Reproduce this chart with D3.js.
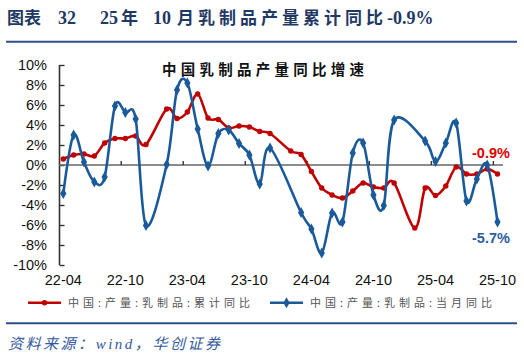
<!DOCTYPE html>
<html><head><meta charset="utf-8">
<script src="https://cdn.jsdelivr.net/npm/d3@7"></script>
<style>
html,body{margin:0;padding:0;background:#fff;}
svg{display:block;}
</style></head>
<body>
<svg id="c" width="524" height="359"></svg>
<script>
// ---- data ----
const months = ["22-04","22-05","22-06","22-07","22-08","22-09","22-10","22-11","22-12","23-01",
  "23-02","23-03","23-04","23-05","23-06","23-07","23-08","23-09","23-10","23-11","23-12","24-01",
  "24-02","24-03","24-04","24-05","24-06","24-07","24-08","24-09","24-10","24-11","24-12","25-01",
  "25-02","25-03","25-04","25-05","25-06","25-07","25-08","25-09","25-10"];
const cumYoY = [0.6,1.0,1.1,0.9,2.2,2.65,2.65,2.9,2.05,null,
  5.6,4.65,5.3,7.1,4.7,4.55,3.7,3.9,3.8,3.35,3.15,null,
  1.4,1.05,-0.65,-2.3,-3.0,-3.3,-2.6,-1.8,-2.2,-2.3,-1.8,null,
  -6.3,-2.3,-3.05,-2.1,-0.2,-0.9,-0.9,-0.4,-0.9];
const monYoY = [-2.85,3.0,0.3,-1.7,-1.2,5.9,5.25,4.6,-6.05,null,
  0.05,7.5,8.2,3.6,-0.1,3.15,3.5,2.15,1.0,-1.9,1.7,null,
  null,-4.75,-6.4,-8.8,-4.8,-5.7,1.2,2.2,-3.0,-4.05,4.5,null,
  null,2.4,0.35,2.2,4.2,-3.6,-1.4,0.0,-5.7];
const xTickLabels = ["22-04","22-10","23-04","23-10","24-04","24-10","25-04","25-10"];
const yTicks = [-10,-8,-6,-4,-2,0,2,4,6,8,10];
const seriesNames = ["中国:产量:乳制品:累计同比","中国:产量:乳制品:当月同比"];
const lastLabels = ["-0.9%","-5.7%"];

// ---- drawing ----
const svg = d3.select("#c");
const RED = "#C00000", BLUE = "#1B5A9A";
const x = d3.scalePoint().domain(months).range([63.3, 497.5]);
const step = x.step();
const y = d3.scaleLinear().domain([-10,10]).range([265,65]);

// title
const t = svg.append("text").attr("y",24)
  .attr("font-family","'Liberation Serif','Noto Sans CJK SC',serif")
  .attr("font-weight","bold").attr("font-size",18).attr("fill","#1F3864");
t.append("tspan").attr("x",7).attr("font-family","'Noto Sans CJK SC'").attr("font-size",17).text("图表");
t.append("tspan").attr("x",58).text("32");
t.append("tspan").attr("x",100).text("25");
t.append("tspan").attr("x",121).attr("font-family","'Noto Sans CJK SC'").attr("font-size",17).text("年");
t.append("tspan").attr("x",153).text("10");
t.append("tspan").attr("x",177).attr("font-family","'Noto Sans CJK SC'").attr("font-size",17)
  .attr("textLength",206).attr("lengthAdjust","spacing").text("月乳制品产量累计同比");
t.append("tspan").attr("x",387).text("-0.9%");

svg.append("line").attr("x1",6).attr("x2",517).attr("y1",41.7).attr("y2",41.7)
  .attr("stroke","#2B4F8C").attr("stroke-width",2);

// inner title
svg.append("text").attr("x",162).attr("y",75)
  .attr("font-family","'Noto Sans CJK SC',sans-serif").attr("font-weight","bold")
  .attr("font-size",14.5).attr("fill","#111")
  .attr("textLength",202).attr("lengthAdjust","spacing")
  .text("中国乳制品产量同比增速");

// y axis
const yAxis = d3.axisRight(y).tickValues(yTicks).tickSize(5).tickFormat("");
const ya = svg.append("g").attr("transform","translate(59.5,0)").call(yAxis);
ya.select(".domain").attr("stroke","#333").attr("stroke-width",1.6).attr("d","M0,65V265");
ya.selectAll(".tick line").attr("stroke","#333").attr("stroke-width",1.4);
svg.append("g").selectAll("text").data(yTicks).join("text")
  .attr("x",47).attr("y",d=>y(d)+5)
  .attr("text-anchor","end")
  .attr("font-family","'Liberation Sans',Arial,sans-serif").attr("font-size",14.5)
  .attr("fill","#111").text(d=>d+"%");

// zero line with ticks
svg.append("line").attr("x1",59).attr("x2",503).attr("y1",y(0)).attr("y2",y(0))
  .attr("stroke","#666").attr("stroke-width",1.6);
const tickIdx = xTickLabels.map(l=>months.indexOf(l));
svg.append("g").selectAll("line").data(tickIdx.slice(1)).join("line")
  .attr("x1",d=>x(months[d])-step*0.4).attr("x2",d=>x(months[d])-step*0.4)
  .attr("y1",y(0)).attr("y2",y(0)-4)
  .attr("stroke","#333").attr("stroke-width",1.4);

// x labels
svg.append("g").selectAll("text").data(xTickLabels).join("text")
  .attr("x",d=>x(d)).attr("y",285)
  .attr("text-anchor","middle")
  .attr("font-family","'Liberation Sans',Arial,sans-serif").attr("font-size",14.5)
  .attr("fill","#111").text(d=>d);

// series
function pts(vals){ return months.map((m,i)=>({m,v:vals[i]})).filter(d=>d.v!==null); }
const line = d3.line().x(d=>x(d.m)).y(d=>y(d.v)).curve(d3.curveCardinal.tension(0));
const redPts = pts(cumYoY), bluePts = pts(monYoY);
svg.append("path").datum(redPts).attr("d",line).attr("fill","none")
  .attr("stroke",RED).attr("stroke-width",2.6);
svg.append("g").selectAll("circle").data(redPts).join("circle")
  .attr("cx",d=>x(d.m)).attr("cy",d=>y(d.v)).attr("r",2.7).attr("fill",RED);
svg.append("path").datum(bluePts).attr("d",line).attr("fill","none")
  .attr("stroke",BLUE).attr("stroke-width",2.6);
const diamond = d3.symbol().type(d3.symbolDiamond).size(34);
svg.append("g").selectAll("path").data(bluePts).join("path")
  .attr("transform",d=>`translate(${x(d.m)},${y(d.v)})`).attr("d",diamond).attr("fill",BLUE);

// end labels
svg.append("text").attr("x",472).attr("y",157.5)
  .attr("font-family","'Liberation Sans',Arial,sans-serif").attr("font-weight","bold")
  .attr("font-size",14.5).attr("fill","#E00000").text(lastLabels[0]);
svg.append("text").attr("x",472).attr("y",243)
  .attr("font-family","'Liberation Sans',Arial,sans-serif").attr("font-weight","bold")
  .attr("font-size",14.5).attr("fill","#2F5C9E").text(lastLabels[1]);

// legend
const lg = [{x0:28,c:RED,name:seriesNames[0],tx:68,sym:"circle"},{x0:270,c:BLUE,name:seriesNames[1],tx:310,sym:"diamond"}];
lg.forEach(l=>{
  svg.append("line").attr("x1",l.x0).attr("x2",l.x0+33).attr("y1",302.7).attr("y2",302.7)
    .attr("stroke",l.c).attr("stroke-width",2.4);
  if(l.sym==="circle") svg.append("circle").attr("cx",l.x0+16.5).attr("cy",302.7).attr("r",2.7).attr("fill",l.c);
  else svg.append("path").attr("transform",`translate(${l.x0+16.5},302.7)`).attr("d",diamond).attr("fill",l.c);
  svg.append("text").attr("x",l.tx).attr("y",306.8)
    .attr("font-family","'Noto Sans CJK SC',sans-serif").attr("font-size",11)
    .attr("fill","#555").attr("textLength",182).attr("lengthAdjust","spacing").text(l.name);
});

// bottom rule and source
svg.append("line").attr("x1",6).attr("x2",517).attr("y1",323.3).attr("y2",323.3)
  .attr("stroke","#2B4F8C").attr("stroke-width",2);
svg.append("text").attr("x",8).attr("y",349)
  .attr("font-family","'Liberation Serif','Noto Sans CJK SC',serif").attr("font-style","italic")
  .attr("font-size",15).attr("fill","#3558A0")
  .attr("textLength",212).attr("lengthAdjust","spacing")
  .text("资料来源：wind，华创证券");
</script>
</body></html>
